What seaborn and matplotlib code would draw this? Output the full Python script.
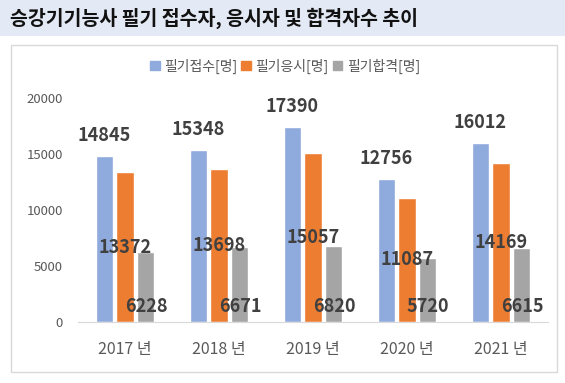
import seaborn as sns
import matplotlib.pyplot as plt
import matplotlib.patches as mpatches
import pandas as pd

# 데이터
years = ['2017 년', '2018 년', '2019 년', '2020 년', '2021 년']
series_names = ['필기접수[명]', '필기응시[명]', '필기합격[명]']
applied = [14845, 15348, 17390, 12756, 16012]
taken = [13372, 13698, 15057, 11087, 14169]
passed = [6228, 6671, 6820, 5720, 6615]
colors = ['#8FAADC', '#ED7D31', '#A5A5A5']

df = pd.DataFrame({
    'year': years * 3,
    'series': [series_names[0]] * 5 + [series_names[1]] * 5 + [series_names[2]] * 5,
    'value': applied + taken + passed,
})

sns.set_style('white')
plt.rcParams['font.family'] = ['Noto Sans CJK KR', 'DejaVu Sans']

fig = plt.figure(figsize=(5.65, 3.83), dpi=100)
W, H = 565, 383

# 제목 띠
fig.patches.append(mpatches.Rectangle((0, 1 - 36 / H), 1, 36 / H, transform=fig.transFigure,
                                      facecolor='#E4EAF5', edgecolor='none', zorder=-2))
fig.text(10 / W, 1 - 18 / H, '승강기기능사 필기 접수자, 응시자 및 합격자수 추이',
         fontsize=14, fontweight='bold', color='#111111', va='center', ha='left')

# 차트 영역 테두리
fig.patches.append(mpatches.Rectangle((11 / W, 1 - 372 / H), 546 / W, 327 / H, transform=fig.transFigure,
                                      facecolor='white', edgecolor='#D9D9D9', linewidth=1, zorder=-2))

ax = fig.add_axes([78 / W, 61 / H, 470 / W, 224 / H])
ax.set_zorder(2)
ax.set_facecolor('none')
sns.barplot(data=df, x='year', y='value', hue='series', palette=colors, width=0.67, gap=0.19,
            ax=ax, legend=False, saturation=1)

ax.set_ylim(0, 20000)
ax.set_yticks([0, 5000, 10000, 15000, 20000])
ax.set_xlabel('')
ax.set_ylabel('')
for s in ['top', 'right', 'left']:
    ax.spines[s].set_visible(False)
ax.spines['bottom'].set_color('#D9D9D9')
ax.tick_params(axis='y', length=0, pad=11, labelsize=9.5, labelcolor='#595959')
ax.tick_params(axis='x', length=0, pad=14, labelsize=11.5, labelcolor='#595959')

# 데이터 레이블
lab = dict(fontsize=13, fontweight='bold', color='#404040')
ax.bar_label(ax.containers[0], labels=[str(v) for v in applied], padding=8, **lab)
ax.bar_label(ax.containers[1], labels=[str(v) for v in taken], label_type='center', **lab)
for bar, v in zip(ax.containers[2], passed):
    ax.annotate(str(v), (bar.get_x() + bar.get_width() / 2, 0), xytext=(0, 11.5),
                textcoords='offset points', ha='center', va='center', **lab)

# 범례
handles = [mpatches.Patch(color=c, label=n) for c, n in zip(colors, series_names)]
fig.legend(handles=handles, loc='center', bbox_to_anchor=(285 / W, 1 - 66 / H), ncol=3, frameon=False,
           fontsize=10, handlelength=0.7, handleheight=0.7, handletextpad=0.3, columnspacing=0.3,
           labelcolor='#595959')

fig.savefig('out.png', dpi=100)
